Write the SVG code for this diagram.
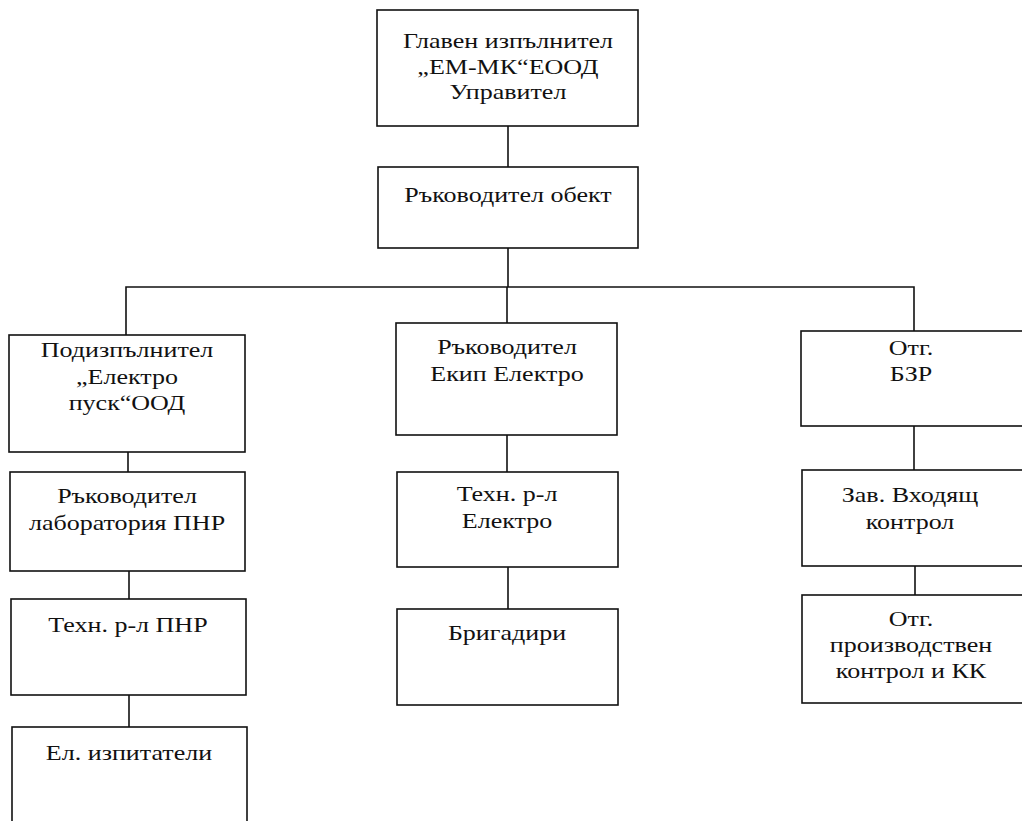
<svg xmlns="http://www.w3.org/2000/svg" width="1022" height="821" viewBox="0 0 1022 821">
<style>
.box{fill:#fff;stroke:#111;stroke-width:1.6}
.t{font-family:'Liberation Serif','Times New Roman',serif;font-size:21px;fill:#111;text-anchor:middle}
.c{fill:none;stroke:#111;stroke-width:1.6}
</style>
<rect width="1022" height="821" fill="#fff"/>
<g id="connectors">
<line class="c" x1="508" y1="126" x2="508" y2="167"/>
<line class="c" x1="508" y1="248" x2="508" y2="287"/>
<polyline class="c" points="126,335 126,287 914,287 914,331"/>
<line class="c" x1="507" y1="287" x2="507" y2="323"/>
<line class="c" x1="128" y1="452" x2="128" y2="472"/>
<line class="c" x1="129" y1="571" x2="129" y2="599"/>
<line class="c" x1="129" y1="695" x2="129" y2="727"/>
<line class="c" x1="507" y1="435" x2="507" y2="472"/>
<line class="c" x1="508" y1="567" x2="508" y2="609"/>
<line class="c" x1="914" y1="426" x2="914" y2="470"/>
<line class="c" x1="915" y1="566" x2="915" y2="595"/>
</g>
<g id="n1"><rect class="box" x="377" y="10" width="261" height="116"/>
<text class="t" transform="translate(508,48) scale(1.24,1)">Главен изпълнител</text>
<text class="t" transform="translate(508,74) scale(1.24,1)">„ЕМ-МК“ЕООД</text>
<text class="t" transform="translate(508,99) scale(1.24,1)">Управител</text></g>
<g id="n2"><rect class="box" x="378" y="167" width="260" height="81"/>
<text class="t" transform="translate(508,202) scale(1.24,1)">Ръководител обект</text></g>
<g id="l1"><rect class="box" x="9" y="335" width="236" height="117"/>
<text class="t" transform="translate(127,357) scale(1.24,1)">Подизпълнител</text>
<text class="t" transform="translate(127,384) scale(1.24,1)">„Електро</text>
<text class="t" transform="translate(127,410) scale(1.24,1)">пуск“ООД</text></g>
<g id="l2"><rect class="box" x="10" y="472" width="235" height="99"/>
<text class="t" transform="translate(127,503) scale(1.24,1)">Ръководител</text>
<text class="t" transform="translate(127,530) scale(1.24,1)">лаборатория ПНР</text></g>
<g id="l3"><rect class="box" x="11" y="599" width="235" height="96"/>
<text class="t" transform="translate(128,632) scale(1.24,1)">Техн. р-л ПНР</text></g>
<g id="l4"><rect class="box" x="12" y="727" width="235" height="100"/>
<text class="t" transform="translate(129,760) scale(1.24,1)">Ел. изпитатели</text></g>
<g id="m1"><rect class="box" x="396" y="323" width="221" height="112"/>
<text class="t" transform="translate(507,354) scale(1.24,1)">Ръководител</text>
<text class="t" transform="translate(507,381) scale(1.24,1)">Екип Електро</text></g>
<g id="m2"><rect class="box" x="397" y="472" width="221" height="95"/>
<text class="t" transform="translate(507,501) scale(1.24,1)">Техн. р-л</text>
<text class="t" transform="translate(507,528) scale(1.24,1)">Електро</text></g>
<g id="m3"><rect class="box" x="397" y="609" width="221" height="96"/>
<text class="t" transform="translate(507,640) scale(1.24,1)">Бригадири</text></g>
<g id="r1"><rect class="box" x="801" y="331" width="222" height="95"/>
<text class="t" transform="translate(911,355) scale(1.24,1)">Отг.</text>
<text class="t" transform="translate(911,381) scale(1.24,1)">БЗР</text></g>
<g id="r2"><rect class="box" x="802" y="470" width="222" height="96"/>
<text class="t" transform="translate(910,502) scale(1.24,1)">Зав. Входящ</text>
<text class="t" transform="translate(910,529) scale(1.24,1)">контрол</text></g>
<g id="r3"><rect class="box" x="802" y="595" width="222" height="108"/>
<text class="t" transform="translate(911,626) scale(1.24,1)">Отг.</text>
<text class="t" transform="translate(911,652) scale(1.24,1)">производствен</text>
<text class="t" transform="translate(911,678) scale(1.24,1)">контрол и КК</text></g>
</svg>
